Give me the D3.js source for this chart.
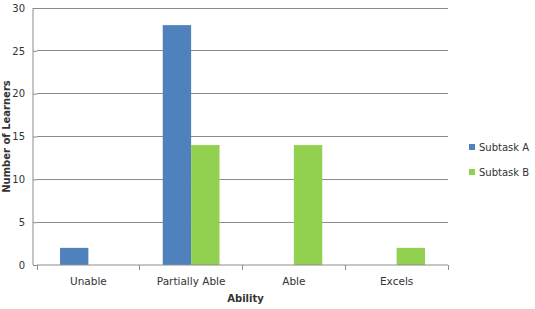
<!DOCTYPE html>
<html>
<head>
<meta charset="utf-8">
<script src="https://cdn.jsdelivr.net/npm/d3@7"></script>
<style>
  body { margin: 0; background: #fff; }
  text { font-family: "DejaVu Sans", sans-serif; fill: #333; }
</style>
</head>
<body>
<div id="chart"></div>
<script>
// chart data
const categories = ["Unable", "Partially Able", "Able", "Excels"];
const seriesNames = ["Subtask A", "Subtask B"];
const subtaskA = [2, 28, 0, 0];
const subtaskB = [0, 14, 14, 2];
const yTicks = [0, 5, 10, 15, 20, 25, 30];

const width = 535, height = 309;
const margin = {top: 8, right: 87, bottom: 44, left: 37};
const innerW = width - margin.left - margin.right;
const innerH = height - margin.top - margin.bottom;
const colors = ["#4f81bd", "#92d050"];

const svg = d3.select("#chart").append("svg")
    .attr("width", width)
    .attr("height", height);

const g = svg.append("g")
    .attr("transform", `translate(${margin.left},${margin.top})`);

const x = d3.scaleBand().domain(categories).range([0, innerW]).paddingInner(0).paddingOuter(0);
const xSub = d3.scaleBand().domain(seriesNames).range([23, x.bandwidth() - 23]);
const y = d3.scaleLinear().domain([0, 30]).range([innerH, 0]);

// gridlines
g.selectAll(".grid").data(yTicks.slice(1)).enter().append("line")
    .attr("x1", 0).attr("x2", innerW)
    .attr("y1", d => y(d)).attr("y2", d => y(d))
    .attr("stroke", "#8c8c8c").attr("stroke-width", 1)
    .attr("shape-rendering", "crispEdges");

// bars
const rows = categories.map((c, i) => ({cat: c, vals: [subtaskA[i], subtaskB[i]]}));
const groups = g.selectAll(".grp").data(rows).enter().append("g")
    .attr("transform", d => `translate(${x(d.cat)},0)`);
groups.selectAll("rect")
    .data(d => d.vals.map((v, j) => ({name: seriesNames[j], v: v, j: j})).filter(e => e.v > 0))
    .enter().append("rect")
    .attr("x", d => xSub(d.name))
    .attr("width", xSub.bandwidth())
    .attr("y", d => y(d.v))
    .attr("height", d => y(0) - y(d.v))
    .attr("fill", d => colors[d.j]);

// y axis
const yAxis = g.append("g")
    .call(d3.axisLeft(y).tickValues(yTicks).tickSize(4).tickPadding(8));
yAxis.select(".domain").attr("stroke", "#8c8c8c").attr("d", `M-4,${innerH}V0`);
yAxis.selectAll(".tick line").attr("stroke", "#8c8c8c");
yAxis.selectAll("text").attr("font-size", "10px").attr("fill", "#333");

// x axis
const xAxis = g.append("g")
    .attr("transform", `translate(0,${innerH})`)
    .call(d3.axisBottom(x).tickSize(0).tickPadding(13));
xAxis.select(".domain").attr("stroke", "#8c8c8c").attr("d", `M0,0H${innerW}`);
xAxis.selectAll("text").attr("font-size", "10.5px").attr("fill", "#333");
// category separators
g.selectAll(".sep").data(categories.concat(["end"])).enter().append("line")
    .attr("x1", (d, i) => i * x.step()).attr("x2", (d, i) => i * x.step())
    .attr("y1", innerH).attr("y2", innerH + 5)
    .attr("stroke", "#8c8c8c")
    .attr("shape-rendering", "crispEdges");

// axis titles
svg.append("text")
    .attr("x", margin.left + innerW / 2 + 3)
    .attr("y", 302)
    .attr("text-anchor", "middle")
    .attr("font-size", "10px")
    .attr("font-weight", "bold")
    .text("Ability");

svg.append("text")
    .attr("transform", `translate(10,${margin.top + innerH / 2}) rotate(-90)`)
    .attr("text-anchor", "middle")
    .attr("font-size", "10px")
    .attr("font-weight", "bold")
    .text("Number of Learners");

// legend
const legend = svg.append("g").attr("transform", "translate(469,144)");
const items = legend.selectAll(".item").data(seriesNames).enter().append("g")
    .attr("transform", (d, i) => `translate(0,${i * 25})`);
items.append("rect").attr("width", 6).attr("height", 6).attr("fill", (d, i) => colors[i]);
items.append("text").attr("x", 10).attr("y", 7).attr("font-size", "10px").text(d => d);
</script>
</body>
</html>
